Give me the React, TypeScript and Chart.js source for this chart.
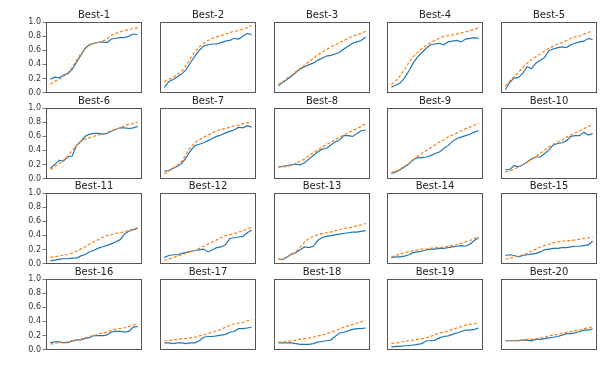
import React, { useEffect, useRef } from 'react';
import { Chart, registerables } from 'chart.js';
Chart.register(...registerables);

const panelTitles = ['Best-1','Best-2','Best-3','Best-4','Best-5','Best-6','Best-7','Best-8','Best-9','Best-10','Best-11','Best-12','Best-13','Best-14','Best-15','Best-16','Best-17','Best-18','Best-19','Best-20'];
const yTicks = [0, 0.2, 0.4, 0.6, 0.8, 1.0];

const b1Solid = [0.19,0.22,0.21,0.25,0.27,0.33,0.43,0.53,0.63,0.68,0.70,0.71,0.72,0.71,0.76,0.77,0.78,0.78,0.80,0.83,0.82];
const b1Dashed = [0.12,0.16,0.19,0.23,0.28,0.36,0.46,0.55,0.62,0.67,0.70,0.71,0.73,0.76,0.81,0.84,0.86,0.88,0.89,0.91,0.92];
const b2Solid = [0.08,0.16,0.19,0.23,0.27,0.33,0.43,0.52,0.60,0.66,0.68,0.69,0.69,0.71,0.73,0.74,0.77,0.76,0.80,0.84,0.82];
const b2Dashed = [0.16,0.19,0.22,0.26,0.31,0.39,0.49,0.58,0.65,0.70,0.74,0.77,0.79,0.81,0.83,0.85,0.87,0.88,0.90,0.92,0.95];
const b3Solid = [0.10,0.15,0.19,0.24,0.29,0.34,0.37,0.40,0.42,0.46,0.49,0.52,0.53,0.55,0.57,0.62,0.66,0.70,0.72,0.74,0.79];
const b3Dashed = [0.12,0.16,0.21,0.25,0.30,0.35,0.39,0.44,0.49,0.54,0.57,0.61,0.65,0.68,0.71,0.74,0.77,0.80,0.82,0.84,0.87];
const b4Solid = [0.08,0.11,0.14,0.21,0.31,0.42,0.51,0.57,0.63,0.68,0.69,0.70,0.68,0.72,0.73,0.74,0.72,0.76,0.77,0.78,0.77];
const b4Dashed = [0.12,0.17,0.24,0.33,0.43,0.51,0.57,0.63,0.67,0.71,0.74,0.77,0.80,0.81,0.82,0.83,0.85,0.86,0.88,0.90,0.92];
const b5Solid = [0.05,0.15,0.21,0.22,0.28,0.37,0.34,0.42,0.46,0.50,0.60,0.62,0.64,0.65,0.64,0.68,0.70,0.72,0.73,0.77,0.75];
const b5Dashed = [0.10,0.17,0.23,0.29,0.36,0.42,0.47,0.51,0.55,0.59,0.63,0.66,0.69,0.71,0.74,0.77,0.79,0.80,0.83,0.85,0.88];
const b6Solid = [0.15,0.20,0.26,0.25,0.31,0.32,0.47,0.53,0.60,0.63,0.64,0.64,0.63,0.64,0.67,0.70,0.72,0.72,0.71,0.72,0.74];
const b6Dashed = [0.13,0.17,0.21,0.26,0.32,0.40,0.47,0.53,0.56,0.58,0.60,0.62,0.63,0.65,0.68,0.70,0.72,0.75,0.77,0.78,0.80];
const b7Solid = [0.11,0.12,0.15,0.18,0.22,0.30,0.40,0.47,0.49,0.51,0.54,0.57,0.60,0.62,0.65,0.67,0.69,0.73,0.72,0.75,0.73];
const b7Dashed = [0.07,0.11,0.15,0.19,0.25,0.35,0.45,0.51,0.55,0.59,0.62,0.65,0.68,0.70,0.71,0.73,0.75,0.76,0.78,0.79,0.81];
const b8Solid = [0.17,0.18,0.19,0.20,0.21,0.20,0.23,0.28,0.33,0.38,0.42,0.43,0.48,0.52,0.55,0.61,0.61,0.60,0.64,0.68,0.69];
const b8Dashed = [0.17,0.17,0.18,0.19,0.22,0.25,0.28,0.33,0.37,0.41,0.45,0.48,0.52,0.55,0.59,0.62,0.65,0.68,0.71,0.74,0.78];
const b9Solid = [0.08,0.10,0.13,0.17,0.21,0.27,0.30,0.30,0.31,0.33,0.36,0.38,0.43,0.47,0.53,0.57,0.59,0.61,0.63,0.66,0.68];
const b9Dashed = [0.09,0.11,0.14,0.18,0.22,0.27,0.32,0.36,0.40,0.44,0.48,0.52,0.55,0.59,0.62,0.65,0.68,0.71,0.73,0.76,0.78];
const b10Solid = [0.13,0.13,0.19,0.17,0.20,0.24,0.28,0.31,0.31,0.36,0.41,0.48,0.50,0.51,0.54,0.60,0.61,0.61,0.66,0.62,0.64];
const b10Dashed = [0.10,0.11,0.14,0.17,0.20,0.24,0.28,0.32,0.36,0.41,0.45,0.49,0.52,0.55,0.59,0.62,0.65,0.68,0.71,0.74,0.77];
const b11Solid = [0.04,0.05,0.06,0.07,0.07,0.08,0.08,0.11,0.13,0.17,0.19,0.22,0.24,0.26,0.28,0.31,0.34,0.42,0.46,0.48,0.50];
const b11Dashed = [0.09,0.10,0.11,0.12,0.13,0.15,0.18,0.21,0.24,0.28,0.31,0.34,0.37,0.40,0.41,0.43,0.44,0.45,0.47,0.49,0.51];
const b12Solid = [0.09,0.12,0.13,0.13,0.15,0.16,0.18,0.19,0.20,0.21,0.17,0.20,0.23,0.24,0.27,0.36,0.37,0.38,0.39,0.44,0.48];
const b12Dashed = [0.05,0.07,0.09,0.11,0.13,0.15,0.17,0.19,0.22,0.25,0.28,0.31,0.34,0.37,0.40,0.41,0.43,0.45,0.47,0.49,0.52];
const b13Solid = [0.07,0.06,0.10,0.14,0.16,0.20,0.24,0.23,0.25,0.33,0.37,0.39,0.40,0.41,0.42,0.43,0.44,0.45,0.45,0.46,0.47];
const b13Dashed = [0.07,0.07,0.10,0.13,0.17,0.24,0.31,0.36,0.39,0.41,0.43,0.44,0.45,0.47,0.48,0.50,0.51,0.52,0.54,0.55,0.57];
const b14Solid = [0.09,0.10,0.10,0.11,0.13,0.16,0.17,0.18,0.20,0.21,0.21,0.22,0.22,0.23,0.24,0.25,0.26,0.25,0.28,0.33,0.37];
const b14Dashed = [0.10,0.12,0.14,0.16,0.17,0.19,0.20,0.21,0.21,0.22,0.23,0.23,0.24,0.25,0.26,0.27,0.29,0.31,0.33,0.36,0.39];
const b15Solid = [0.12,0.13,0.12,0.10,0.12,0.13,0.14,0.15,0.17,0.20,0.21,0.22,0.22,0.23,0.23,0.24,0.25,0.25,0.26,0.27,0.32];
const b15Dashed = [0.07,0.08,0.10,0.11,0.13,0.15,0.18,0.21,0.24,0.26,0.28,0.30,0.31,0.32,0.33,0.33,0.34,0.35,0.36,0.37,0.38];
const b16Solid = [0.10,0.11,0.11,0.10,0.10,0.12,0.14,0.14,0.16,0.17,0.20,0.20,0.20,0.21,0.25,0.26,0.26,0.25,0.26,0.32,0.33];
const b16Dashed = [0.08,0.09,0.10,0.10,0.11,0.13,0.14,0.15,0.17,0.19,0.20,0.22,0.24,0.25,0.27,0.29,0.30,0.31,0.33,0.35,0.37];
const b17Solid = [0.10,0.10,0.09,0.10,0.10,0.09,0.10,0.10,0.13,0.18,0.19,0.19,0.20,0.21,0.22,0.25,0.26,0.30,0.30,0.31,0.32];
const b17Dashed = [0.13,0.13,0.14,0.15,0.16,0.16,0.17,0.18,0.20,0.21,0.23,0.25,0.27,0.29,0.32,0.35,0.37,0.38,0.39,0.41,0.43];
const b18Solid = [0.10,0.10,0.10,0.10,0.09,0.08,0.08,0.08,0.09,0.11,0.12,0.13,0.14,0.19,0.24,0.25,0.27,0.29,0.30,0.30,0.31];
const b18Dashed = [0.11,0.11,0.12,0.13,0.14,0.15,0.16,0.17,0.18,0.20,0.21,0.23,0.25,0.27,0.30,0.32,0.34,0.36,0.38,0.40,0.42];
const b19Solid = [0.04,0.05,0.05,0.06,0.06,0.07,0.08,0.09,0.13,0.13,0.14,0.17,0.19,0.20,0.22,0.24,0.26,0.28,0.28,0.29,0.31];
const b19Dashed = [0.09,0.10,0.11,0.12,0.13,0.14,0.15,0.16,0.17,0.19,0.22,0.24,0.25,0.27,0.29,0.31,0.33,0.35,0.36,0.37,0.38];
const b20Solid = [0.13,0.13,0.13,0.13,0.14,0.14,0.13,0.15,0.15,0.16,0.17,0.18,0.19,0.21,0.23,0.23,0.24,0.26,0.28,0.28,0.30];
const b20Dashed = [0.13,0.13,0.13,0.14,0.14,0.15,0.15,0.16,0.17,0.18,0.20,0.21,0.22,0.24,0.25,0.26,0.27,0.28,0.30,0.31,0.33];

const solidSeries = [b1Solid,b2Solid,b3Solid,b4Solid,b5Solid,b6Solid,b7Solid,b8Solid,b9Solid,b10Solid,b11Solid,b12Solid,b13Solid,b14Solid,b15Solid,b16Solid,b17Solid,b18Solid,b19Solid,b20Solid];
const dashedSeries = [b1Dashed,b2Dashed,b3Dashed,b4Dashed,b5Dashed,b6Dashed,b7Dashed,b8Dashed,b9Dashed,b10Dashed,b11Dashed,b12Dashed,b13Dashed,b14Dashed,b15Dashed,b16Dashed,b17Dashed,b18Dashed,b19Dashed,b20Dashed];

const PLOT_W = 96;
const PLOT_H = 71;
const Y_AXIS_W = 46;
const TITLE_H = 13;
const PAD_SIDE = 2;
const PAD_BOTTOM = 6;

const boxPlugin = {
  id: 'boxFrame',
  afterDatasetsDraw(chart: any) {
    const { ctx, chartArea } = chart;
    ctx.save();
    ctx.strokeStyle = '#555';
    ctx.lineWidth = 1;
    ctx.strokeRect(Math.round(chartArea.left) + 0.5, Math.round(chartArea.top) + 0.5,
      Math.round(chartArea.right - chartArea.left) - 1, Math.round(chartArea.bottom - chartArea.top) - 1);
    ctx.restore();
  },
};

function Panel({ idx, left, top, showY }: { idx: number; left: number; top: number; showY: boolean }) {
  const ref = useRef<HTMLCanvasElement>(null);
  const canvasLeft = showY ? left - Y_AXIS_W : left - PAD_SIDE;
  const canvasW = (showY ? Y_AXIS_W : PAD_SIDE) + PLOT_W + PAD_SIDE;
  const canvasH = TITLE_H + PLOT_H + PAD_BOTTOM;
  useEffect(() => {
    const solid = solidSeries[idx];
    const dashed = dashedSeries[idx];
    const n = solid.length;
    const yScale: any = {
      type: 'linear',
      min: 0,
      max: 1,
      display: showY,
    };
    if (showY) {
      yScale.afterFit = (scale: any) => { scale.width = Y_AXIS_W; };
      yScale.afterBuildTicks = (scale: any) => { scale.ticks = yTicks.map((v) => ({ value: v })); };
      yScale.border = { display: false };
      yScale.grid = { display: true, drawOnChartArea: false, drawTicks: true, tickLength: 3.5, color: '#555', lineWidth: 0.8 };
      yScale.ticks = {
        padding: 1.5,
        color: '#333',
        font: { family: 'DejaVu Sans', size: 8 },
        callback: (v: any) => Number(v).toFixed(1),
      };
    }
    const chart = new Chart(ref.current!, {
      type: 'line',
      data: {
        datasets: [
          {
            data: dashed.map((v, i) => ({ x: i, y: v })),
            borderColor: '#ff7f0e',
            borderWidth: 1.2,
            borderDash: [3, 2],
            pointRadius: 0,
            tension: 0,
            fill: false,
          },
          {
            data: solid.map((v, i) => ({ x: i, y: v })),
            borderColor: '#1f77b4',
            borderWidth: 1.2,
            pointRadius: 0,
            tension: 0,
            fill: false,
          },
        ],
      },
      options: {
        animation: false,
        responsive: false,
        maintainAspectRatio: false,
        events: [],
        layout: { padding: { left: showY ? 0 : PAD_SIDE, right: PAD_SIDE, top: 0, bottom: PAD_BOTTOM } },
        plugins: {
          legend: { display: false },
          tooltip: { enabled: false },
          title: {
            display: true,
            fullSize: false,
            text: panelTitles[idx],
            color: '#222',
            font: { family: 'DejaVu Sans', size: 10, weight: 'normal', lineHeight: '12px' },
            padding: { top: 0, bottom: 1 },
          },
        },
        scales: {
          x: { type: 'linear', min: -0.05 * (n - 1), max: 1.05 * (n - 1), display: false },
          y: yScale,
        },
      },
      plugins: [boxPlugin],
    });
    return () => chart.destroy();
  }, [idx, showY]);
  return (
    <canvas
      ref={ref}
      width={canvasW}
      height={canvasH}
      style={{ position: 'absolute', left: canvasLeft, top: top - TITLE_H, width: canvasW, height: canvasH }}
    />
  );
}

export default function App() {
  const panels = [];
  for (let r = 0; r < 4; r++) {
    for (let c = 0; c < 5; c++) {
      const idx = r * 5 + c;
      const left = Math.round(46 + c * 113.75);
      const top = Math.round(22 + r * 85.5);
      panels.push(<Panel key={idx} idx={idx} left={left} top={top} showY={c === 0} />);
    }
  }
  return (
    <div style={{ position: 'absolute', left: 0, top: 0, width: 613, height: 371, background: '#fff' }}>
      {panels}
    </div>
  );
}
